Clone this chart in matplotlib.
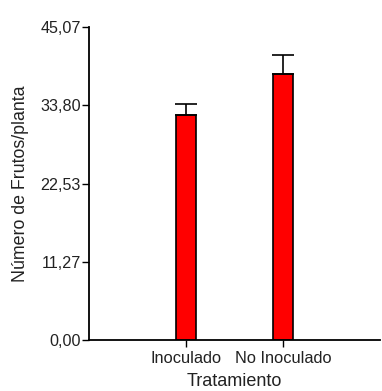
import numpy as np
import matplotlib.pyplot as plt

# Frutos por planta según tratamiento
tratamientos = ["Inoculado", "No Inoculado"]
medias = [32.4, 38.3]
errores = [1.6, 2.7]
yticks = [0.00, 11.27, 22.53, 33.80, 45.07]

plt.rcParams['font.family'] = ['Liberation Sans', 'DejaVu Sans']

fig = plt.figure(figsize=(3.82, 3.91), dpi=100)
ax = fig.add_axes([0.233, 0.130, 0.762, 0.801])

x = np.arange(1, len(tratamientos) + 1)
ax.bar(x, medias, width=0.21, color='#ff0000', edgecolor='black', linewidth=1.2, zorder=2)
ax.errorbar(x, medias, yerr=[np.zeros(len(errores)), errores], fmt='none',
            ecolor='black', elinewidth=1.2, capsize=7.6, capthick=1.2, zorder=3)

ax.set_xlim(0, 3)
ax.set_ylim(0, 45.07)
ax.set_xticks(x)
ax.set_xticklabels(tratamientos, fontsize=11.8, color='#222222')
ax.set_yticks(yticks)
ax.set_yticklabels([f"{v:.2f}".replace('.', ',') for v in yticks], fontsize=11.6, color='#222222')

for s in ['top', 'right']:
    ax.spines[s].set_visible(False)
for s in ['left', 'bottom']:
    ax.spines[s].set_linewidth(1.3)
ax.tick_params(axis='y', length=5, width=1, pad=1)
ax.tick_params(axis='x', length=5, width=1, pad=3)

ax.set_ylabel("Número de Frutos/planta", fontsize=12.8, labelpad=8, color='#222222')
ax.set_xlabel("Tratamiento", fontsize=13, labelpad=5, color='#222222')

fig.savefig("out.png", dpi=100)
